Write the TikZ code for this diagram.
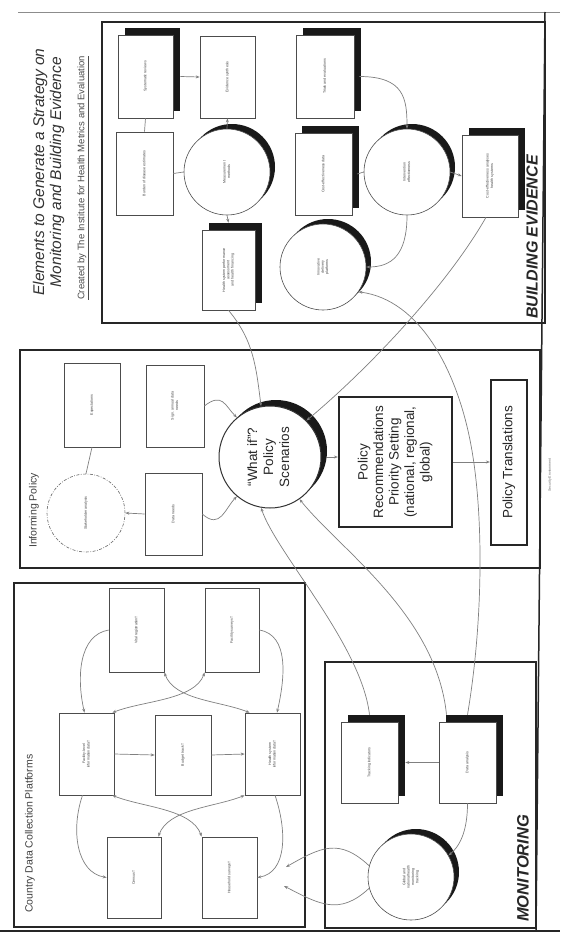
\documentclass[tikz,border=0pt]{standalone}
\usepackage{fontspec}
\setmainfont{Liberation Sans}
\usetikzlibrary{arrows.meta,shadows,calc}
\newcommand\tinyf{\fontsize{3.6}{4.3}\selectfont}
\newcommand\vtext[1]{\rotatebox{90}{\begin{tabular}{@{}c@{}}#1\end{tabular}}}
\begin{document}
\begin{tikzpicture}[x=1pt,y=-1pt,
 every node/.style={inner sep=0pt},
 frame/.style={draw=black!85,line width=1.7pt},
 sbox/.style={draw=black!70,line width=0.6pt,fill=white,align=center,font=\tinyf,text=black!75},
 shad/.style={drop shadow={shadow xshift=7pt,shadow yshift=7pt,fill=black!90,opacity=1}},
 cshad/.style={drop shadow={shadow xshift=5pt,shadow yshift=5pt,fill=black!90,opacity=1}},
 scirc/.style={circle,draw=black!70,line width=0.6pt,fill=white,minimum size=86pt,font=\tinyf,text=black!75},
 con/.style={draw=black!50,line width=0.7pt},
 arr/.style={con,-{Stealth[length=4pt,width=3pt]}},
 barr/.style={con,{Stealth[length=4pt,width=3pt]}-{Stealth[length=4pt,width=3pt]}},
 lbl/.style={rotate=90,anchor=west},
]
\useasboundingbox (0,0) rectangle (560,934);
\fill[white] (0,0) rectangle (560,934);

% outer lines and frames
\draw[black!45,line width=0.7pt] (18,12) -- (560,12);
\draw[frame] (102,22) rectangle (545,323);
\draw[frame] (20,350) rectangle (540,568);
\draw[frame] (14,583) rectangle (305,927);
\draw[frame] (325,662) rectangle (536,928);
\draw[black!85,line width=1.5pt] (545,12) -- (536,931);
\draw[black!85,line width=1.5pt] (0,931) -- (560,931);

% title
\node[rotate=90,font=\itshape\fontsize{15.5}{18}\selectfont,text=black!80] (t1) at (40,172) {Elements to Generate a Strategy on};
\node[rotate=90,font=\itshape\fontsize{15.5}{18}\selectfont,text=black!80] (t2) at (57,172) {Monitoring and Building Evidence};
\node[rotate=90,font=\fontsize{9.5}{11}\selectfont,text=black!70] (t3) at (83,178) {\underline{Created by The Institute for Health Metrics and Evaluation}};

% BUILDING EVIDENCE
\node[sbox,shad,minimum width=55pt,minimum height=83pt] (b1) at (145.5,76.5) {\vtext{Systematic reviews}};
\node[sbox,minimum width=55pt,minimum height=82pt] (b2) at (227.5,77) {\vtext{Evidence synthesis}};
\node[sbox,shad,minimum width=58pt,minimum height=83pt] (b3) at (325,76.5) {\vtext{Trials and evaluations}};
\node[sbox,minimum width=57pt,minimum height=83pt] (b4) at (144.5,173.5) {\vtext{Burden of disease estimates}};
\node[scirc,cshad] (c1) at (227,172) {\vtext{Measurement\\methods}};
\node[sbox,shad,minimum width=57pt,minimum height=82pt] (b5) at (323.5,174) {\vtext{Cost-effectiveness data}};
\node[scirc,cshad] (c2) at (407,172) {\vtext{Intervention\\effectiveness}};
\node[sbox,shad,minimum width=56pt,minimum height=82pt] (b6) at (490,176) {\vtext{Cost-effectiveness analyses\\health systems}};
\node[sbox,shad,minimum width=53pt,minimum height=80pt] (b7) at (228.5,270) {\vtext{Health system performance\\assessment\\and health financing}};
\node[scirc,cshad] (c3) at (323,267) {\vtext{Innovative\\delivery\\platforms}};
\node[lbl,font=\bfseries\itshape\fontsize{16}{16}\selectfont,text=black!85] (bel) at (532,319) {BUILDING EVIDENCE};

% INFORMING POLICY
\node[lbl,font=\fontsize{10.5}{12}\selectfont,text=black!75] (ipl) at (34,548) {Informing Policy};
\node[circle,draw=black!60,line width=0.6pt,dash pattern=on 3pt off 1.5pt on 0.8pt off 1.5pt,minimum size=78pt,font=\tinyf,text=black!75] (dc) at (86,513) {\vtext{Stakeholder analysis}};
\node[sbox,minimum width=56pt,minimum height=84pt] (ip1) at (92,405) {\vtext{Expectations}};
\node[sbox,minimum width=58pt,minimum height=82pt] (ip2) at (175,406) {\vtext{Sign. annual data\\needs}};
\node[sbox,minimum width=57pt,minimum height=82pt] (ip3) at (173.5,514) {\vtext{Data needs}};
\node[circle,draw=black!80,line width=1pt,fill=white,minimum size=102pt,
  drop shadow={shadow xshift=6pt,shadow yshift=6pt,fill=black!90,opacity=1},
  font=\fontsize{13.5}{16}\selectfont,text=black!85] (whatif) at (270,457) {\vtext{“What if”?\\Policy\\Scenarios}};
\node[draw=black!85,line width=2.2pt,fill=white,minimum width=113pt,minimum height=130pt,
  font=\fontsize{13.5}{15.5}\selectfont,text=black!85] (polrec) at (395.5,462) {\vtext{Policy\\Recommendations\\Priority Setting\\(national, regional,\\global)}};
\node[draw=black!85,line width=2.2pt,fill=white,minimum width=36pt,minimum height=165pt,
  font=\fontsize{13.5}{15.5}\selectfont,text=black!85] (pt) at (509,462.5) {\rotatebox{90}{Policy Translations}};
\node[rotate=90,font=\fontsize{3.5}{4}\selectfont,text=black!60] (rm) at (550,475) {Security Environment};

% COUNTRY DATA
\node[lbl,font=\fontsize{10.5}{12}\selectfont,text=black!75] (cdl) at (30,913) {Country Data Collection Platforms};
\node[sbox,minimum width=55pt,minimum height=84pt] (cd1) at (136.5,630) {\vtext{Vital registration†}};
\node[sbox,minimum width=54pt,minimum height=84pt] (cd2) at (232,630) {\vtext{Facility surveys†}};
\node[sbox,minimum width=55pt,minimum height=82pt] (cd3) at (86.5,754) {\vtext{Facility-level\\information data†}};
\node[sbox,minimum width=56pt,minimum height=80pt] (cd4) at (183,755) {\vtext{Budget track†}};
\node[sbox,minimum width=55pt,minimum height=82pt] (cd5) at (272.5,754) {\vtext{Health system\\information data†}};
\node[sbox,minimum width=54pt,minimum height=81pt] (cd6) at (134,877.5) {\vtext{Census†}};
\node[sbox,minimum width=55pt,minimum height=81pt] (cd7) at (229.5,877.5) {\vtext{Household surveys†}};

% MONITORING
\node[lbl,font=\bfseries\itshape\fontsize{16.5}{17}\selectfont,text=black!85] (monl) at (523,922) {MONITORING};
\node[sbox,shad,minimum width=57pt,minimum height=81pt] (m1) at (369.5,762.5) {\vtext{Tracking indicators}};
\node[sbox,shad,minimum width=57pt,minimum height=81pt] (m2) at (467.5,762.5) {\vtext{Data analysis}};
\node[scirc,cshad] (m3) at (411,877) {\vtext{Global and\\national health\\monitoring\\tracking}};

% BE connectors
\draw[arr] ([xshift=7pt]b1.east) -- (b2.west);
\draw[con] (b1.south) -- (b4.north);
\draw[con] (b4.east) -- (c1.west);
\draw[arr] (c1.north) -- (b2.south);
\draw[arr] (c1.south) -- ([yshift=7pt]b7.north);
\draw[arr] ([xshift=5pt]b3.east) .. controls +(45,0) and +(0,-30) .. (c2.north);
\draw[con] ([xshift=5pt]b5.east) -- (c2.west);
\draw[arr] (c2.east) -- (b6.west);
\draw[arr] (c2.south) .. controls +(0,40) and +(25,0) .. (c3.east);

% long connectors
\draw[arr] (b7.south) .. controls +(25,30) and +(-5,-40) .. (whatif.100);
\draw[arr] ([xshift=-4pt]b6.south) .. controls +(-40,70) and +(60,-50) .. (whatif.45);
\draw[arr] ([yshift=7pt]m2.north) .. controls +(16,-95) and +(14,70) .. (470,440) .. controls (456,370) and (420,300) .. (c3.-35);
\draw[arr] ([yshift=7pt]m1.north) .. controls +(-8,-70) and +(15,45) .. (whatif.-100);
\draw[arr] ([xshift=-21pt,yshift=7pt]m2.north) .. controls +(-10,-100) and +(40,50) .. (whatif.-55);

% IP connectors
\draw[con] (ip1.south) -- (dc.north);
\draw[arr] (ip3.west) -- (dc.east);
\draw[arr] (ip2.east) .. controls +(18,-14) and +(-12,-12) .. (whatif.130);
\draw[arr] (ip3.east) .. controls +(18,16) and +(-12,12) .. (whatif.-130);
\draw[arr] ([xshift=5pt]whatif.east) -- (whatif.east -| polrec.west);
\draw[arr] (polrec.east) -- (pt.west |- polrec.east);

% MON connectors
\draw[arr] (m2.west) -- ([xshift=7pt]m1.east);
\draw[arr] (m2.south) .. controls +(0,30) and +(10,-8) .. (m3.30);
\coordinate (e1) at (286,867);
\coordinate (e2) at (284,886);
\draw[arr] (m3.165) .. controls +(-30,-28) and +(35,-20) .. (e1);
\draw[arr] (m3.195) .. controls +(-30,28) and +(35,18) .. (e2);

% CD connectors
\draw[arr] (cd1.west) .. controls +(-30,5) and +(-8,-35) .. ([xshift=-2pt]cd3.north);
\draw[arr] (cd2.east) .. controls +(30,5) and +(8,-35) .. ([xshift=4.5pt]cd5.north);
\draw[barr] (cd1.south east) .. controls +(10,28) and +(-30,-12) .. ([xshift=5pt]cd5.north west);
\draw[barr] (cd2.south west) .. controls +(-10,28) and +(30,-12) .. ([xshift=-2pt]cd3.north east);
\draw[barr] ([xshift=-2pt]cd3.south east) .. controls +(30,12) and +(-10,-28) .. (cd7.north west);
\draw[barr] (cd5.south west) .. controls +(-30,12) and +(10,-28) .. ([xshift=-3pt]cd6.north east);
\draw[arr] ([xshift=-4pt]cd3.south) .. controls +(-12,35) and +(-30,-5) .. (cd6.west);
\draw[arr] ([xshift=2.5pt]cd5.south) .. controls +(12,35) and +(30,-5) .. (cd7.east);
\draw[arr] (cd3.east) -- (cd4.west);
\draw[arr] (cd4.east) -- (cd5.west);
\end{tikzpicture}
\end{document}
